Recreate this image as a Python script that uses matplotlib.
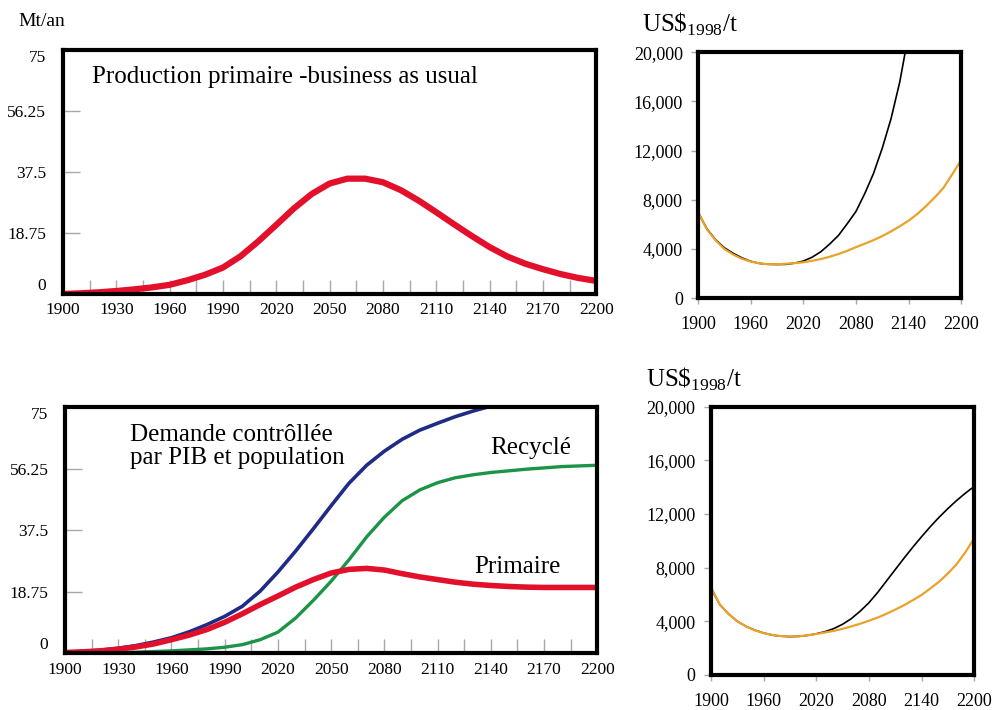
import numpy as np
import matplotlib
matplotlib.use("Agg")
import matplotlib.pyplot as plt

plt.rcParams['font.family'] = ['Liberation Serif', 'DejaVu Serif']
plt.rcParams['mathtext.fontset'] = 'custom'
plt.rcParams['mathtext.rm'] = 'Liberation Serif'

# --- data ---
years = list(range(1900, 2201, 10))

# Mt/an, business as usual
prod_bau = [0.0, 0.2, 0.5, 0.9, 1.4, 2.0, 2.8, 4.2, 5.9, 8.1, 11.6,
            16.2, 21.2, 26.3, 30.7, 33.9, 35.4, 35.4, 34.3, 31.9, 28.7,
            25.1, 21.4, 17.8, 14.4, 11.5, 9.3, 7.6, 6.1, 4.9, 4.0]

# Mt/an, demand driven by GDP and population
demand = [0.3, 0.6, 1.0, 1.6, 2.4, 3.5, 4.8, 6.6, 8.8, 11.3, 14.4,
          19.0, 24.8, 31.2, 38.0, 45.0, 51.8, 57.3, 61.6, 65.2, 68.0,
          70.1, 72.1, 73.8, 75.3, 76.5, 77.5, 78.3, 79.0, 79.6, 80.1]
recycled = [0.0, 0.1, 0.2, 0.3, 0.4, 0.6, 0.8, 1.1, 1.4, 1.9, 2.7,
            4.2, 6.5, 10.8, 16.2, 22.0, 28.5, 35.5, 41.5, 46.5, 49.8,
            52.0, 53.5, 54.4, 55.1, 55.6, 56.1, 56.5, 56.9, 57.1, 57.3]
primary = [0.3, 0.5, 0.8, 1.3, 2.0, 2.9, 4.2, 5.6, 7.3, 9.5, 12.1,
           14.9, 17.5, 20.2, 22.5, 24.5, 25.6, 25.9, 25.4, 24.3, 23.3,
           22.5, 21.7, 21.1, 20.7, 20.4, 20.2, 20.1, 20.1, 20.1, 20.1]

# US$1998/t, business as usual
years_bau_black = list(range(1900, 2141, 10))
price_bau_black = [7000, 5650, 4750, 4100, 3650, 3280, 3000, 2830, 2760, 2740,
                   2750, 2850, 3020, 3330, 3780, 4400, 5100, 6050, 7050, 8500,
                   10140, 12200, 14600, 17600, 21500]
price_bau_orange = [7000, 5600, 4700, 4000, 3550, 3200, 2980, 2830, 2760, 2760,
                    2800, 2850, 2920, 3040, 3180, 3370, 3590, 3850, 4150, 4430,
                    4720, 5050, 5430, 5850, 6300, 6850, 7500, 8200, 9000, 10100,
                    11250]

# US$1998/t, demand controlled
years_dem_black = list(range(1900, 2191, 10)) + [2197]
price_dem_black = [6460, 5250, 4550, 4000, 3620, 3340, 3130, 2970, 2890, 2860,
                   2880, 2950, 3070, 3230, 3460, 3780, 4200, 4750, 5380, 6150,
                   7000, 7850, 8700, 9520, 10300, 11050, 11750, 12400, 13000, 13550,
                   13900]
price_dem_orange = [6550, 5250, 4550, 4000, 3620, 3330, 3120, 2980, 2900, 2870,
                    2880, 2960, 3050, 3170, 3290, 3440, 3620, 3820, 4040, 4280,
                    4560, 4870, 5200, 5570, 5960, 6450, 6950, 7560, 8250, 9150,
                    10180]

left_yticks = [0, 18.75, 37.5, 56.25, 75]
left_yticklabels = ['0', '18.75', '37.5', '56.25', '75']
left_xticks = list(range(1900, 2201, 30))
right_yticks = [0, 4000, 8000, 12000, 16000, 20000]
right_yticklabels = ['0', '4,000', '8,000', '12,000', '16,000', '20,000']
right_xticks = list(range(1900, 2201, 60))

RED = '#e2102b'
BLUE = '#1f2b85'
GREEN = '#1c9447'
ORANGE = '#e9a22a'
TICKGREY = '#a8a8a8'

fig = plt.figure(figsize=(9.93, 7.10), dpi=100)


def style_left(ax):
    ax.set_xlim(1900, 2200)
    ax.set_ylim(0, 75)
    for s in ax.spines.values():
        s.set_linewidth(3.0)
    ax.set_xticks(left_xticks)
    ax.set_xticks(list(range(1915, 2200, 30)), minor=True)
    ax.set_yticks(left_yticks)
    ax.set_yticklabels(left_yticklabels)
    ax.tick_params(axis='x', which='both', direction='in', length=10, width=1,
                   color=TICKGREY, labelsize=12.5, pad=6)
    ax.tick_params(axis='y', direction='in', length=12, width=1,
                   color=TICKGREY, labelsize=12.5, pad=12)
    lbls = ax.get_yticklabels()
    lbls[0].set_va('bottom')
    lbls[-1].set_va('top')


def style_right(ax):
    ax.set_xlim(1900, 2200)
    ax.set_ylim(0, 20000)
    for s in ax.spines.values():
        s.set_linewidth(3.0)
    ax.set_xticks(right_xticks)
    ax.set_yticks(right_yticks)
    ax.set_yticklabels(right_yticklabels)
    ax.tick_params(axis='x', direction='out', length=4, width=1,
                   color=TICKGREY, labelsize=13, pad=9)
    ax.tick_params(axis='y', direction='out', length=5, width=1,
                   color=TICKGREY, labelsize=13, pad=6)


# top-left: production BAU
ax1 = fig.add_axes([0.0634, 0.586, 0.537, 0.344])
ax1.plot(years, prod_bau, color=RED, lw=4.5, solid_capstyle='butt')
style_left(ax1)
ax1.text(0.0544, 0.889, 'Production primaire -business as usual',
         transform=ax1.transAxes, fontsize=18, va='center', ha='left')
fig.text(18 / 993, 1 - 22 / 710, 'Mt/an', fontsize=14, va='center', ha='left')

# bottom-left: demand controlled
ax2 = fig.add_axes([0.0655, 0.0796, 0.536, 0.347])
ax2.plot(years, demand, color=BLUE, lw=2.6)
ax2.plot(years, recycled, color=GREEN, lw=2.4)
ax2.plot(years, primary, color=RED, lw=4.0)
style_left(ax2)
ax2.text(0.122, 0.84, 'Demande contrôllée\npar PIB et population',
         transform=ax2.transAxes, fontsize=18, va='center', ha='left',
         linespacing=1.1)
ax2.text(2139.5, 62.5, 'Recyclé', fontsize=18, va='center', ha='left')
ax2.text(2130.5, 26.3, 'Primaire', fontsize=18, va='center', ha='left')

# top-right: price BAU
ax3 = fig.add_axes([0.703, 0.580, 0.265, 0.3465])
ax3.plot(years_bau_black, price_bau_black, color='black', lw=1.2)
ax3.plot(years, price_bau_orange, color=ORANGE, lw=1.6)
style_right(ax3)
fig.text(642 / 993, 1 - 24 / 710, r'US\$$_{\mathrm{1998}}$/t', fontsize=18,
         va='center', ha='left')

# bottom-right: price demand controlled
ax4 = fig.add_axes([0.716, 0.0493, 0.265, 0.378])
ax4.plot(years_dem_black, price_dem_black, color='black', lw=1.2)
ax4.plot(years, price_dem_orange, color=ORANGE, lw=1.6)
style_right(ax4)
fig.text(646 / 993, 1 - 379 / 710, r'US\$$_{\mathrm{1998}}$/t', fontsize=18,
         va='center', ha='left')

fig.savefig('out.png', dpi=100)
